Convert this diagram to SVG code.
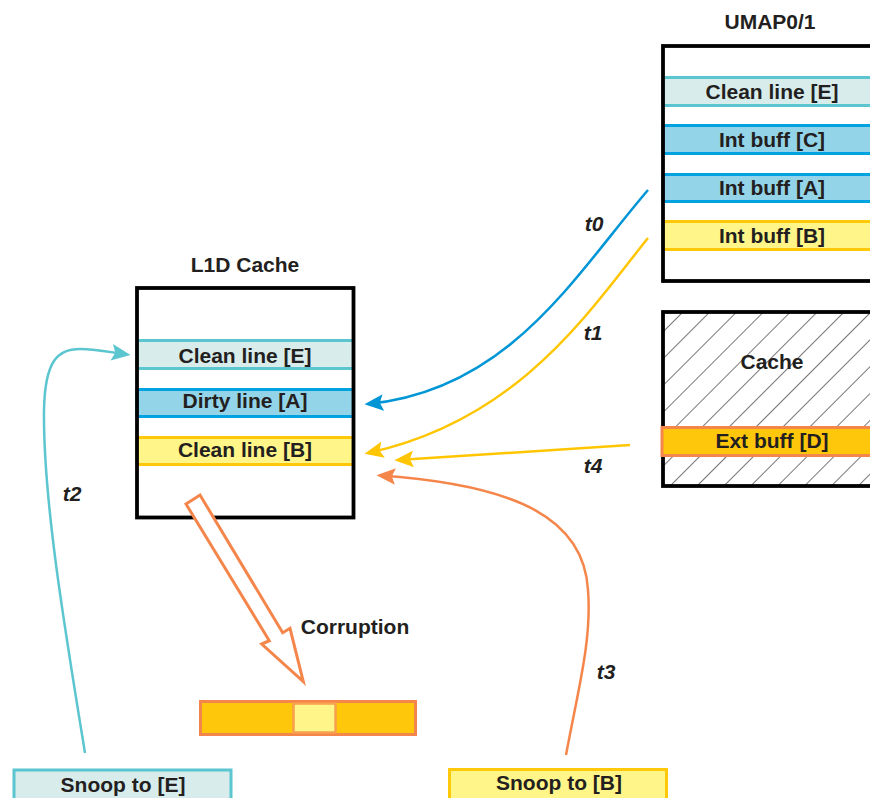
<svg xmlns="http://www.w3.org/2000/svg" width="870" height="798" viewBox="0 0 870 798">
<style>
text{font-family:"Liberation Sans",Arial,sans-serif;font-weight:bold;font-size:21px;fill:#231f20;text-anchor:middle}
.lbl{font-style:italic}
.box{fill:none;stroke:#000;stroke-width:3.8}
.teal{fill:#d8ecec;stroke:#5bc5d0;stroke-width:3}
.blue{fill:#94d4e8;stroke:#00a3e0;stroke-width:3}
.yel{fill:#fff588;stroke:#ffc90a;stroke-width:3}
.ext{fill:#ffc70b;stroke:#f5864b;stroke-width:3}
.conn{fill:none;stroke-width:2.5}
</style>
<defs>
<pattern id="hatch" width="19" height="19" patternUnits="userSpaceOnUse" patternTransform="rotate(45)">
<line x1="0" y1="0" x2="0" y2="19" stroke="#1a1a1a" stroke-width="1.2"/>
</pattern>
<marker id="ahBlue" markerUnits="userSpaceOnUse" markerWidth="19" markerHeight="17" viewBox="0 0 16 14" refX="13" refY="7" orient="auto"><path d="M0,0 L16,7 L0,14 L3,7 z" fill="#0096d6"/></marker>
<marker id="ahYel" markerUnits="userSpaceOnUse" markerWidth="19" markerHeight="17" viewBox="0 0 16 14" refX="13" refY="7" orient="auto"><path d="M0,0 L16,7 L0,14 L3,7 z" fill="#ffc600"/></marker>
<marker id="ahOr" markerUnits="userSpaceOnUse" markerWidth="19" markerHeight="17" viewBox="0 0 16 14" refX="13" refY="7" orient="auto"><path d="M0,0 L16,7 L0,14 L3,7 z" fill="#f5864b"/></marker>
<marker id="ahTeal" markerUnits="userSpaceOnUse" markerWidth="19" markerHeight="17" viewBox="0 0 16 14" refX="13" refY="7" orient="auto"><path d="M0,0 L16,7 L0,14 L3,7 z" fill="#5bc5d0"/></marker>
</defs>
<rect width="870" height="798" fill="#fff"/>

<g id="umap">
<text x="770" y="29">UMAP0/1</text>
<rect x="663" y="46" width="220" height="235" fill="#fff"/>
<rect class="teal" x="663" y="77.5" width="220" height="28"/>
<text x="772" y="99">Clean line [E]</text>
<rect class="blue" x="663" y="125.5" width="220" height="28"/>
<text x="772" y="147">Int buff [C]</text>
<rect class="blue" x="663" y="174.5" width="220" height="27"/>
<text x="772" y="195">Int buff [A]</text>
<rect class="yel" x="663" y="221.5" width="220" height="28"/>
<text x="772" y="243">Int buff [B]</text>
<rect class="box" x="663" y="46" width="220" height="235"/>
</g>

<g id="cache">
<rect x="663" y="312" width="220" height="174" fill="url(#hatch)"/>
<rect class="box" x="663" y="312" width="220" height="174"/>
<text x="772" y="369">Cache</text>
<rect class="ext" x="662" y="427.5" width="220" height="28"/>
<text x="772" y="448">Ext buff [D]</text>
</g>

<g id="l1d">
<text x="245" y="272">L1D Cache</text>
<rect x="137" y="288" width="216.5" height="229.5" fill="#fff"/>
<rect class="teal" x="137" y="340.5" width="216.5" height="28"/>
<text x="245" y="363">Clean line [E]</text>
<rect class="blue" x="137" y="389.5" width="216.5" height="27"/>
<text x="245" y="408">Dirty line [A]</text>
<rect class="yel" x="137" y="437.5" width="216.5" height="27"/>
<text x="245" y="457">Clean line [B]</text>
<rect class="box" x="137" y="288" width="216.5" height="229.5"/>
</g>

<g id="snoopE">
<rect class="teal" x="14" y="770" width="217" height="40"/>
<text x="123" y="792">Snoop to [E]</text>
</g>

<g id="snoopB">
<rect class="yel" x="449.5" y="769.5" width="217" height="40"/>
<text x="559" y="790">Snoop to [B]</text>
</g>

<g id="corrupt">
<rect class="ext" x="200.5" y="701.5" width="215" height="33"/>
<rect x="293.5" y="703.5" width="42" height="29" fill="#fff588" stroke="#f7a04e" stroke-width="2.5"/>
<text x="355" y="634">Corruption</text>
</g>

<g id="connectors">
<path class="conn" stroke="#0096d6" d="M648,190 C575,275 510,390 368,404" marker-end="url(#ahBlue)"/>
<path class="conn" stroke="#ffc600" d="M648,238 C590,310 520,420 368,453" marker-end="url(#ahYel)"/>
<path class="conn" stroke="#ffc600" d="M630,445 L398,460" marker-end="url(#ahYel)"/>
<path class="conn" stroke="#f5864b" d="M566,755 C578,690 592,640 588,590 C584,520 520,485 380,475.5" marker-end="url(#ahOr)"/>
<path class="conn" stroke="#5bc5d0" d="M85,753 C65,630 43,500 44,410 C45,360 58,349 80,349 C95,349 110,352 127,354.5" marker-end="url(#ahTeal)"/>
<polygon points="186,504 200,495 282.7,632.7 290,628.3 303.3,681.7 261.7,644 269.3,640.7" fill="#fff" stroke="#f5864b" stroke-width="3" stroke-linejoin="miter"/>
<text class="lbl" x="594" y="231">t0</text>
<text class="lbl" x="593" y="340">t1</text>
<text class="lbl" x="593" y="473">t4</text>
<text class="lbl" x="606" y="679">t3</text>
<text class="lbl" x="72" y="501">t2</text>
</g>
</svg>
